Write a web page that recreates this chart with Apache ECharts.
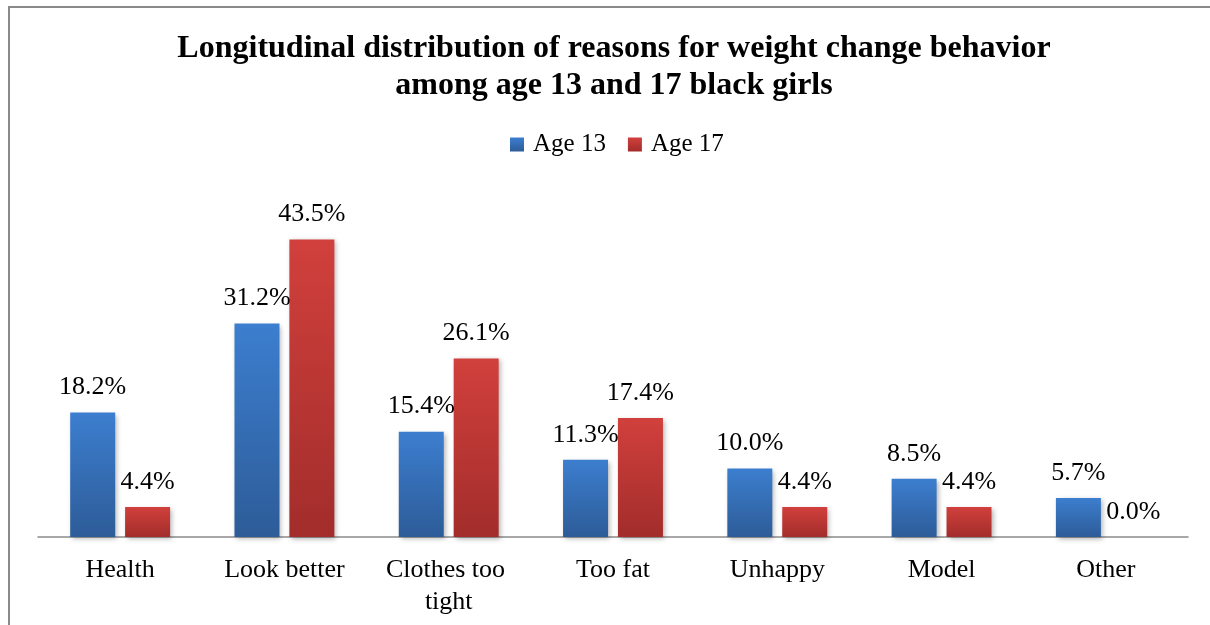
<!DOCTYPE html>
<html lang="en">
<head>
    <meta charset="UTF-8">
    <title>Weight change reasons</title>
    <script src="https://cdn.jsdelivr.net/npm/echarts@6/dist/echarts.min.js"></script>
    <style>
        html, body { margin: 0; padding: 0; background: #fff; }
        #main { width: 1210px; height: 625px; }
    </style>
</head>
<body>
<div id="main"></div>
<script type="text/javascript">
    // chart data
    var categories = ['Health', 'Look better', 'Clothes too tight', 'Too fat', 'Unhappy', 'Model', 'Other'];
    var age13 = [18.2, 31.2, 15.4, 11.3, 10.0, 8.5, 5.7];
    var age17 = [4.4, 43.5, 26.1, 17.4, 4.4, 4.4, 0.0];
    var seriesNames = ['Age 13', 'Age 17'];

    var serif = "'Liberation Serif', 'Times New Roman', serif";

    function grad(top, bottom) {
        return new echarts.graphic.LinearGradient(0, 0, 0, 1, [
            { offset: 0, color: top },
            { offset: 1, color: bottom }
        ]);
    }

    function barSeries(name, data, top, bottom) {
        return {
            name: name,
            type: 'bar',
            data: data,
            barWidth: 45,
            barGap: '22%',
            itemStyle: {
                color: grad(top, bottom),
                shadowBlur: 5,
                shadowOffsetX: 2,
                shadowOffsetY: 2,
                shadowColor: 'rgba(0,0,0,0.3)'
            },
            label: {
                show: true,
                position: 'top',
                distance: 12,
                fontFamily: serif,
                fontSize: 26,
                color: '#000',
                formatter: function (p) { return p.value.toFixed(1) + '%'; }
            }
        };
    }

    var myChart = echarts.init(document.getElementById('main'));
    var option = {
        animation: false,
        title: {
            text: 'Longitudinal distribution of reasons for weight change behavior\namong age 13 and 17 black girls',
            left: 609,
            textAlign: 'center',
            top: 25,
            textStyle: {
                fontFamily: serif,
                fontSize: 32,
                fontWeight: 'bold',
                color: '#000',
                lineHeight: 37
            }
        },
        legend: {
            data: seriesNames,
            left: 510,
            top: 132,
            padding: 0,
            itemWidth: 14,
            itemHeight: 14,
            itemGap: 22,
            icon: 'rect',
            textStyle: {
                fontFamily: serif,
                fontSize: 25,
                color: '#000',
                padding: [0, 0, 0, 4]
            }
        },
        grid: {
            left: 38,
            right: 22,
            top: 195,
            bottom: 88
        },
        xAxis: {
            type: 'category',
            data: categories,
            axisLine: { lineStyle: { color: '#8c8c8c', width: 1.5 } },
            axisTick: { show: false },
            axisLabel: {
                fontFamily: serif,
                fontSize: 26,
                color: '#000',
                margin: 17,
                lineHeight: 32,
                width: 150,
                overflow: 'break',
                interval: 0
            }
        },
        yAxis: {
            type: 'value',
            min: 0,
            max: 50,
            show: false,
            splitLine: { show: false }
        },
        graphic: [{
            type: 'rect',
            shape: { x: 9, y: 7, width: 1400, height: 800 },
            style: { fill: 'none', stroke: '#8a8a8a', lineWidth: 2 },
            silent: true
        }],
        series: [
            barSeries(seriesNames[0], age13, '#3c7ecf', '#2d5c98'),
            barSeries(seriesNames[1], age17, '#d1403c', '#a22d2b')
        ]
    };
    myChart.setOption(option);
</script>
</body>
</html>
